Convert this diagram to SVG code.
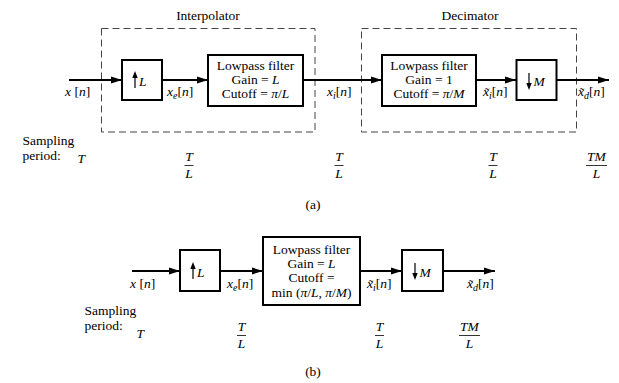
<svg xmlns="http://www.w3.org/2000/svg" width="619" height="383" viewBox="0 0 619 383" font-family="'Liberation Serif','Times New Roman',serif">
<style>
text{font-family:"Liberation Serif","Times New Roman",serif;font-size:13.5px;fill:#000}
.i{font-style:italic}
.s{font-size:10px;font-style:italic}
.m{text-anchor:middle}
.box{fill:#fff;stroke:#000;stroke-width:2}
.dash{fill:none;stroke:#444;stroke-width:1;stroke-dasharray:7,4}
.ln{stroke:#000;stroke-width:2;fill:none}
.fb{stroke:#000;stroke-width:0.8}
</style>
<defs>
<marker id="ah" markerUnits="userSpaceOnUse" markerWidth="12" markerHeight="8" refX="11" refY="4" orient="auto">
<path d="M0,0.5 L11,4 L0,7.5 z" fill="#000"/>
</marker>
</defs>
<rect width="619" height="383" fill="#fff"/>

<!-- (a) -->
<g id="interpolator">
<rect class="dash" x="101.5" y="28.5" width="213.5" height="103.5"/>
<text class="m" x="208" y="19.5">Interpolator</text>
</g>
<g id="decimator">
<rect class="dash" x="361.5" y="28.5" width="215" height="103.5"/>
<text class="m" x="470" y="19.5">Decimator</text>
</g>

<g id="connectors-a">
<line class="ln" x1="69" y1="80" x2="122" y2="80" marker-end="url(#ah)"/>
<line class="ln" x1="162" y1="80" x2="208" y2="80" marker-end="url(#ah)"/>
<line class="ln" x1="303" y1="80" x2="382" y2="80" marker-end="url(#ah)"/>
<line class="ln" x1="476" y1="80" x2="516" y2="80" marker-end="url(#ah)"/>
<line class="ln" x1="556" y1="80" x2="609" y2="80" marker-end="url(#ah)"/>
</g>

<g id="upL-a">
<rect class="box" x="122" y="60" width="40" height="40"/>
<line x1="135" y1="88" x2="135" y2="76" stroke="#000" stroke-width="1.2"/>
<path d="M135,71 L132.3,78 L137.7,78 z" fill="#000"/>
<text class="i" x="139" y="86">L</text>
</g>

<g id="lpf-a1">
<rect class="box" x="208" y="55" width="95" height="51"/>
<text class="m" x="255.5" y="70">Lowpass filter</text>
<text class="m" x="255.5" y="84">Gain = <tspan class="i">L</tspan></text>
<text class="m" x="255.5" y="98">Cutoff = <tspan class="i">π</tspan>/<tspan class="i">L</tspan></text>
</g>

<g id="lpf-a2">
<rect class="box" x="382" y="55" width="94" height="51"/>
<text class="m" x="429" y="70">Lowpass filter</text>
<text class="m" x="429" y="84">Gain = 1</text>
<text class="m" x="429" y="98">Cutoff = <tspan class="i">π</tspan>/<tspan class="i">M</tspan></text>
</g>

<g id="downM-a">
<rect class="box" x="516.5" y="60" width="40" height="40"/>
<line x1="529" y1="73" x2="529" y2="85" stroke="#000" stroke-width="1.2"/>
<path d="M529,90 L526.3,83 L531.7,83 z" fill="#000"/>
<text class="i" x="533.5" y="86">M</text>
</g>

<g id="labels-a">
<text x="65" y="96"><tspan class="i">x</tspan> [<tspan class="i">n</tspan>]</text>
<text x="167" y="96"><tspan class="i">x</tspan><tspan class="s" dy="3">e</tspan><tspan dy="-3">[</tspan><tspan class="i">n</tspan>]</text>
<text x="327" y="96"><tspan class="i">x</tspan><tspan class="s" dy="3">i</tspan><tspan dy="-3">[</tspan><tspan class="i">n</tspan>]</text>
<text x="483" y="96"><tspan class="i">x̃</tspan><tspan class="s" dy="3">i</tspan><tspan dy="-3">[</tspan><tspan class="i">n</tspan>]</text>
<text x="578" y="96"><tspan class="i">x̃</tspan><tspan class="s" dy="3">d</tspan><tspan dy="-3">[</tspan><tspan class="i">n</tspan>]</text>
</g>

<g id="sampling-a">
<text x="22.5" y="145">Sampling</text>
<text x="22.5" y="159.5">period:</text>
<text class="i" x="77.5" y="163">T</text>
<text class="i m" x="189" y="161">T</text>
<line class="fb" x1="184.5" y1="165.5" x2="193.5" y2="165.5"/>
<text class="i m" x="189" y="178">L</text>
<text class="i m" x="339" y="161">T</text>
<line class="fb" x1="334.5" y1="165.5" x2="343.5" y2="165.5"/>
<text class="i m" x="339" y="178">L</text>
<text class="i m" x="493" y="161">T</text>
<line class="fb" x1="488.5" y1="165.5" x2="497.5" y2="165.5"/>
<text class="i m" x="493" y="178">L</text>
<text class="i m" x="596.5" y="161">TM</text>
<line class="fb" x1="586" y1="165.5" x2="607" y2="165.5"/>
<text class="i m" x="596.5" y="178">L</text>
<text class="m" x="313" y="209">(a)</text>
</g>

<!-- (b) -->
<g id="connectors-b">
<line class="ln" x1="132" y1="271" x2="180" y2="271" marker-end="url(#ah)"/>
<line class="ln" x1="220" y1="271" x2="263" y2="271" marker-end="url(#ah)"/>
<line class="ln" x1="360" y1="271" x2="402" y2="271" marker-end="url(#ah)"/>
<line class="ln" x1="443" y1="271" x2="495" y2="271" marker-end="url(#ah)"/>
</g>

<g id="upL-b">
<rect class="box" x="180" y="250" width="40" height="41"/>
<line x1="193" y1="279" x2="193" y2="267" stroke="#000" stroke-width="1.2"/>
<path d="M193,262 L190.3,269 L195.7,269 z" fill="#000"/>
<text class="i" x="197" y="277">L</text>
</g>

<g id="lpf-b">
<rect class="box" x="263" y="237" width="97" height="68"/>
<text class="m" x="311.5" y="253.5">Lowpass filter</text>
<text class="m" x="311.5" y="267.5">Gain = <tspan class="i">L</tspan></text>
<text class="m" x="311.5" y="282">Cutoff =</text>
<text class="m" x="311.5" y="296.5">min (<tspan class="i">π</tspan>/<tspan class="i">L</tspan>, <tspan class="i">π</tspan>/<tspan class="i">M</tspan>)</text>
</g>

<g id="downM-b">
<rect class="box" x="402" y="250" width="41" height="41"/>
<line x1="415" y1="263" x2="415" y2="275" stroke="#000" stroke-width="1.2"/>
<path d="M415,280 L412.3,273 L417.7,273 z" fill="#000"/>
<text class="i" x="419.5" y="277">M</text>
</g>

<g id="labels-b">
<text x="130" y="288"><tspan class="i">x</tspan> [<tspan class="i">n</tspan>]</text>
<text x="227" y="288"><tspan class="i">x</tspan><tspan class="s" dy="3">e</tspan><tspan dy="-3">[</tspan><tspan class="i">n</tspan>]</text>
<text x="367" y="288"><tspan class="i">x̃</tspan><tspan class="s" dy="3">i</tspan><tspan dy="-3">[</tspan><tspan class="i">n</tspan>]</text>
<text x="467" y="288"><tspan class="i">x̃</tspan><tspan class="s" dy="3">d</tspan><tspan dy="-3">[</tspan><tspan class="i">n</tspan>]</text>
</g>

<g id="sampling-b">
<text x="84.5" y="315">Sampling</text>
<text x="84.5" y="329.5">period:</text>
<text class="i" x="136.5" y="338">T</text>
<text class="i m" x="241.5" y="331">T</text>
<line class="fb" x1="237" y1="335.5" x2="246" y2="335.5"/>
<text class="i m" x="241.5" y="348">L</text>
<text class="i m" x="379.5" y="331">T</text>
<line class="fb" x1="375" y1="335.5" x2="384" y2="335.5"/>
<text class="i m" x="379.5" y="348">L</text>
<text class="i m" x="469.5" y="331">TM</text>
<line class="fb" x1="459" y1="335.5" x2="480" y2="335.5"/>
<text class="i m" x="469.5" y="348">L</text>
<text class="m" x="313" y="376">(b)</text>
</g>
</svg>
